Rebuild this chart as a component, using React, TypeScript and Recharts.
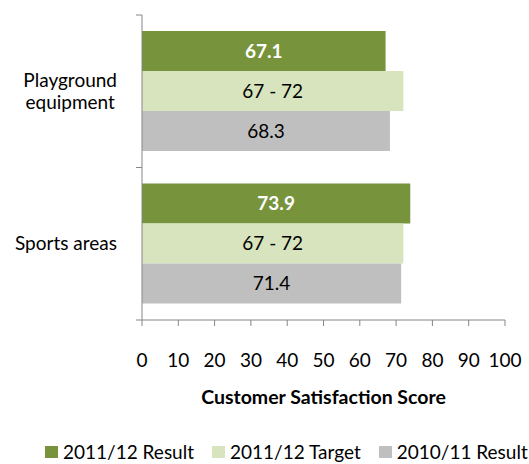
import { BarChart, Bar, XAxis, YAxis, Legend, LabelList, Label } from 'recharts';

// categories and series
const categories = ['Playground equipment', 'Sports areas'];
const categoryLines = [['Playground', 'equipment'], ['Sports areas']];
const result1112 = [67.1, 73.9];
const target1112 = [72, 72];
const targetLabels = ['67 - 72', '67 - 72'];
const result1011 = [68.3, 71.4];
const xTicks = [0, 10, 20, 30, 40, 50, 60, 70, 80, 90, 100];

const seriesNames = ['2011/12 Result', '2011/12 Target', '2010/11 Result'];
const seriesColors = ['#77933C', '#D7E4BD', '#BFBFBF'];

const data = categories.map((name, i) => ({
  name,
  r1112: result1112[i],
  t1112: target1112[i],
  tLabel: targetLabels[i],
  r1011: result1011[i],
}));

const FONT = 'Lato, "Open Sans", sans-serif';
const FS = 19;
const AXIS = '#868686';

let ctx: CanvasRenderingContext2D | null = null;
function textWidth(s: string) {
  if (!ctx) ctx = document.createElement('canvas').getContext('2d');
  if (!ctx) return s.length * FS * 0.5;
  ctx.font = `${FS}px Lato`;
  return ctx.measureText(s).width;
}

// y tick: right aligned label block, tick marks at band edges
function CategoryTick(props: any) {
  const { x, y, payload, index } = props;
  const idx = categories.indexOf(payload.value);
  const lines = categoryLines[idx] || [payload.value];
  const half = payload.offset || 76;
  const axisX = x + 25;
  const maxW = Math.max(...lines.map(textWidth));
  const cx = x - maxW / 2;
  const lh = 22;
  const startY = y - ((lines.length - 1) * lh) / 2;
  return (
    <g>
      <line x1={axisX - 6} x2={axisX} y1={y - half} y2={y - half} stroke={AXIS} />
      {index === categories.length - 1 && (
        <line x1={axisX - 6} x2={axisX} y1={y + half} y2={y + half} stroke={AXIS} />
      )}
      {lines.map((l: string, i: number) => (
        <text
          key={i}
          x={lines.length > 1 ? cx : x}
          y={startY + i * lh}
          dy="0.35em"
          textAnchor={lines.length > 1 ? 'middle' : 'end'}
          fill="#000"
          fontSize={FS}
          fontFamily={FONT}
        >
          {l}
        </text>
      ))}
    </g>
  );
}

function LegendContent() {
  return (
    <div style={{ display: 'flex', alignItems: 'center', height: 24, fontFamily: FONT, fontSize: FS, lineHeight: '22px', color: '#000', whiteSpace: 'nowrap' }}>
      {seriesNames.map((n, i) => (
        <div key={n} style={{ display: 'flex', alignItems: 'center', marginRight: 18 }}>
          <span style={{ display: 'inline-block', width: 13, height: 12, background: seriesColors[i], marginRight: 5 }} />
          <span>{n}</span>
        </div>
      ))}
    </div>
  );
}

export default function App() {
  return (
    <div style={{ position: 'absolute', left: 0, top: 0, background: '#fff' }}>
      <BarChart
        width={529}
        height={464}
        data={data}
        layout="vertical"
        margin={{ top: 15, right: 24, left: 0, bottom: 0 }}
        barGap={0}
        barSize={40}
      >
        <XAxis
          type="number"
          domain={[0, 100]}
          ticks={xTicks}
          interval={0}
          stroke={AXIS}
          tickSize={6}
          tickMargin={28}
          height={120}
          tick={{ fill: '#000', fontSize: FS, fontFamily: FONT }}
        >
          <Label
            content={({ viewBox }: any) => (
              <text
                x={viewBox.x + viewBox.width / 2}
                y={viewBox.y + 84}
                textAnchor="middle"
                fontWeight="bold"
                fontSize={19.5}
                fontFamily={FONT}
                fill="#000"
              >
                Customer Satisfaction Score
              </text>
            )}
          />
        </XAxis>
        <YAxis
          type="category"
          dataKey="name"
          width={142}
          stroke={AXIS}
          tickLine={false}
          tickSize={6}
          tickMargin={19}
          interval={0}
          tick={<CategoryTick />}
        />
        <Legend
          verticalAlign="bottom"
          content={<LegendContent />}
          wrapperStyle={{ left: 45, width: 484, bottom: 0 }}
        />
        <Bar dataKey="r1112" name={seriesNames[0]} fill={seriesColors[0]} isAnimationActive={false}>
          <LabelList dataKey="r1112" position="center" fill="#fff" fontWeight="bold" fontSize={FS} fontFamily={FONT} />
        </Bar>
        <Bar dataKey="t1112" name={seriesNames[1]} fill={seriesColors[1]} isAnimationActive={false}>
          <LabelList dataKey="tLabel" position="center" fill="#000" fontSize={FS} fontFamily={FONT} />
        </Bar>
        <Bar dataKey="r1011" name={seriesNames[2]} fill={seriesColors[2]} isAnimationActive={false}>
          <LabelList dataKey="r1011" position="center" fill="#000" fontSize={FS} fontFamily={FONT} />
        </Bar>
      </BarChart>
    </div>
  );
}
